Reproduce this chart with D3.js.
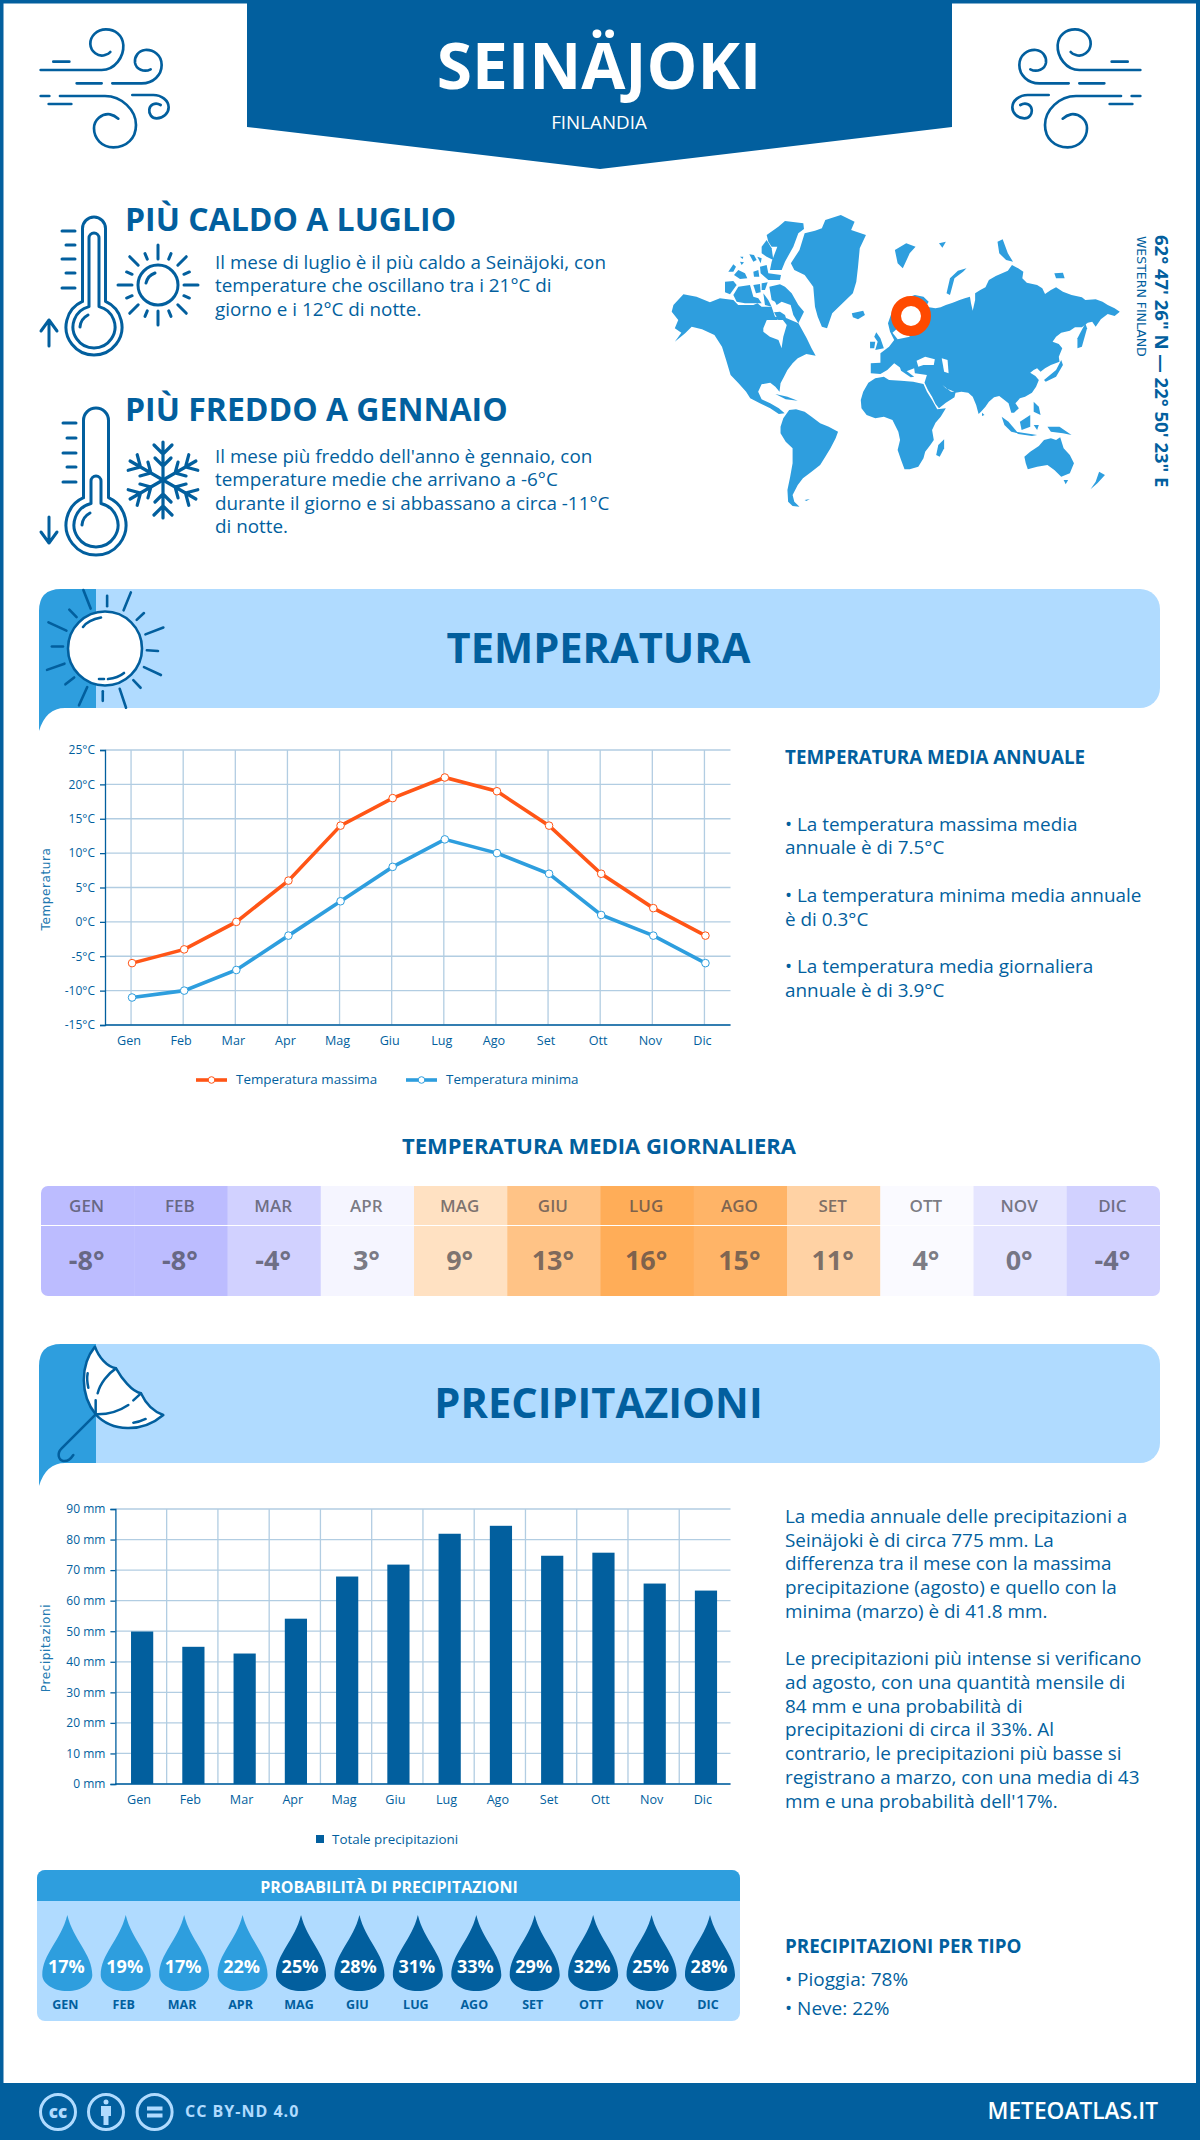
<!DOCTYPE html>
<html>
<head>
<meta charset="utf-8">
<script src="https://cdn.jsdelivr.net/npm/d3@7"></script>
<style>
  body { margin: 0; background: #fff; }
  svg { display: block; }
  text { font-family: "Open Sans", sans-serif; fill: #025f9e; }
  .grid line { stroke: #b2cde2; stroke-width: 1.3; }
  .axis path, .axis line { stroke: #025f9e; stroke-width: 1.3; }
  .axis text { font-family: "Open Sans", sans-serif; fill: #025f9e; }
  .ink { fill: none; stroke: #025f9e; stroke-linecap: round; stroke-linejoin: round; }
</style>
</head>
<body>
<div id="chart"></div>
<script>
// Data
var months = ["Gen", "Feb", "Mar", "Apr", "Mag", "Giu", "Lug", "Ago", "Set", "Ott", "Nov", "Dic"];
var monthsUpper = ["GEN", "FEB", "MAR", "APR", "MAG", "GIU", "LUG", "AGO", "SET", "OTT", "NOV", "DIC"];
var tempMax = [-6, -4, 0, 6, 14, 18, 21, 19, 14, 7, 2, -2];
var tempMin = [-11, -10, -7, -2, 3, 8, 12, 10, 7, 1, -2, -6];
var tempDaily = [-8, -8, -4, 3, 9, 13, 16, 15, 11, 4, 0, -4];
var precip = [49.9, 44.9, 42.7, 54.1, 67.9, 71.8, 81.9, 84.5, 74.7, 75.7, 65.6, 63.3];
var precipProb = [17, 19, 17, 22, 25, 28, 31, 33, 29, 32, 25, 28];
var tempTicks = [-15, -10, -5, 0, 5, 10, 15, 20, 25];
var precipTicks = [0, 10, 20, 30, 40, 50, 60, 70, 80, 90];

var blue = "#025f9e", midBlue = "#2e9ede", lightBlue = "#b0dbff", orange = "#ff5516";

// World map outlines, traced in a 1568x960 drawing space
var mapLand = [
  [[34,335],[39,315],[68,283],[106,290],[145,307],[174,295],[213,300],[227,315],[271,315],[283,310],[295,320],[324,320],[334,350],[368,355],[402,370],[426,415],[440,445],[452,467],[425,462],[400,475],[385,490],[370,510],[360,530],[350,550],[347,575],[335,560],[320,548],[295,553],[285,575],[295,598],[320,610],[345,625],[362,640],[345,642],[320,625],[290,610],[262,595],[250,575],[228,550],[205,525],[192,480],[180,440],[158,405],[122,388],[92,380],[73,400],[43,425],[62,398],[43,385],[53,360]],
  [[335,582],[370,590],[400,602],[365,598]],
  [[380,190],[405,150],[420,100],[450,92],[470,85],[480,60],[525,45],[565,65],[555,90],[598,105],[580,145],[575,200],[570,245],[560,280],[530,310],[500,340],[485,385],[470,380],[458,350],[450,320],[445,260],[420,225],[390,210]],
  [[557,340],[590,332],[595,345],[575,358],[560,352]],
  [[682,150],[715,130],[742,140],[725,160],[705,205],[690,190]],
  [[810,130],[830,125],[820,143]],
  [[890,205],[880,215],[855,235],[842,285],[832,280],[842,235],[865,212]],
  [[980,125],[995,118],[1010,160],[1025,185],[1005,180],[985,160]],
  [[1145,220],[1170,218],[1175,235],[1150,235]],
  [[612,490],[640,488],[640,460],[665,440],[680,420],[668,395],[662,370],[672,340],[690,310],[705,298],[740,285],[765,290],[780,305],[772,320],[800,325],[815,322],[830,315],[850,308],[870,300],[885,295],[900,290],[903,310],[908,332],[915,300],[915,280],[930,270],[945,262],[955,240],[975,228],[1010,212],[1022,195],[1040,205],[1055,215],[1052,235],[1065,248],[1095,255],[1110,265],[1118,282],[1135,270],[1150,262],[1170,275],[1195,285],[1225,292],[1235,300],[1265,298],[1285,305],[1300,315],[1320,325],[1335,335],[1320,348],[1300,342],[1280,358],[1265,380],[1255,365],[1242,368],[1225,382],[1205,382],[1190,392],[1165,398],[1150,410],[1140,425],[1158,432],[1168,445],[1158,470],[1160,485],[1135,495],[1118,505],[1105,515],[1095,505],[1085,510],[1075,518],[1090,528],[1100,540],[1092,560],[1080,578],[1060,590],[1045,595],[1032,610],[1042,625],[1028,638],[1020,638],[1012,610],[1000,600],[985,588],[970,592],[955,605],[945,620],[932,635],[925,642],[918,615],[908,590],[895,578],[875,575],[858,578],[855,592],[830,608],[810,625],[800,612],[790,590],[778,570],[768,548],[775,525],[755,522],[740,520],[738,505],[725,510],[712,515],[700,505],[680,490],[660,510],[640,522],[612,520]],
  [[583,600],[590,575],[605,548],[625,535],[650,530],[665,540],[700,542],[735,545],[765,552],[775,575],[790,600],[805,628],[830,625],[815,650],[800,668],[790,690],[795,720],[785,735],[770,755],[765,775],[750,800],[725,808],[710,808],[700,780],[690,750],[697,720],[692,695],[675,660],[650,650],[625,655],[600,645],[585,625]],
  [[350,680],[358,655],[375,630],[395,628],[420,635],[440,650],[465,670],[490,680],[517,695],[510,715],[495,745],[480,770],[465,795],[440,815],[415,835],[400,855],[385,885],[390,905],[405,920],[385,918],[372,905],[370,870],[378,830],[385,790],[385,745],[365,725],[350,700]],
  [[1058,770],[1075,755],[1100,738],[1115,720],[1135,715],[1150,720],[1162,712],[1172,745],[1190,765],[1202,790],[1190,820],[1165,830],[1145,810],[1125,795],[1095,800],[1068,808],[1062,790]],
  [[628,397],[640,415],[650,445],[625,450],[632,425],[622,410]],
  [[610,425],[625,425],[622,445],[610,445]],
  [[695,497],[712,510],[738,530],[728,532],[700,512]],
  [[1235,370],[1240,385],[1225,440],[1212,445],[1212,415]],
  [[1115,540],[1150,510],[1165,480],[1170,495],[1150,530],[1120,545]],
  [[825,718],[825,745],[812,770],[802,765],[808,735]],
  [[1275,815],[1292,825],[1270,850],[1250,868],[1265,845]],
  [[1172,840],[1185,840],[1178,853]],
  [[992,650],[1012,665],[1040,700],[1020,695],[1000,675]],
  [[1030,695],[1095,705],[1080,708],[1040,702]],
  [[1045,665],[1075,645],[1075,680],[1050,690]],
  [[1085,675],[1100,675],[1095,690]],
  [[1125,680],[1160,680],[1195,705],[1170,700],[1135,695]],
  [[1085,605],[1100,620],[1105,645],[1085,635]],
  [[935,638],[942,645],[935,648]],
  [[420,900],[435,897],[425,903]]
];
var mapWater = [
  [[300,385],[310,360],[339,360],[353,355],[368,375],[358,410],[353,445],[344,420],[319,410],[300,395]],
  [[745,482],[770,470],[798,478],[795,495],[765,495],[750,500]],
  [[818,475],[835,480],[838,520],[825,515]],
  [[675,398],[690,385],[720,395],[725,410],[690,418]],
  [[820,555],[845,575],[855,575],[830,565]]
];
// Arctic Canada, traced at 3x from the corner of the map
var mapArctic = [
  [[290,90],[325,65],[345,48],[400,55],[402,72],[385,85],[370,125],[345,170],[335,195],[300,195],[305,170],[322,125],[305,125],[295,110]],
  [[275,125],[290,105],[305,130],[310,165],[290,155],[275,145]],
  [[238,148],[252,150],[260,165],[250,170]],
  [[262,155],[275,160],[272,175]],
  [[210,155],[220,155],[218,162]],
  [[210,170],[222,172],[215,180]],
  [[175,200],[190,178],[198,185],[190,200]],
  [[192,210],[205,195],[225,205],[232,220],[210,222]],
  [[250,200],[265,195],[268,215],[252,215]],
  [[270,185],[290,180],[295,205],[333,210],[330,225],[295,225],[272,205]],
  [[165,230],[190,228],[200,240],[180,268],[165,262]],
  [[190,270],[205,245],[240,240],[250,275],[265,280],[275,295],[255,295],[225,295],[200,290]],
  [[250,240],[270,237],[272,262],[258,265]],
  [[275,235],[293,232],[285,255],[275,255]],
  [[280,265],[295,285],[305,305],[285,300]],
  [[298,245],[330,238],[345,245],[365,265],[385,300],[402,320],[385,355],[370,330],[362,300],[335,290],[320,300],[315,290],[305,285]],
  [[312,322],[330,320],[345,330],[350,345],[325,345]]
];

var svg = d3.select("#chart").append("svg")
    .attr("width", 1200)
    .attr("height", 2140);

// Page frame
svg.append("rect").attr("x", 1.75).attr("y", 1.75).attr("width", 1196.5).attr("height", 2130)
    .attr("fill", "none").attr("stroke", blue).attr("stroke-width", 3.5);
svg.append("rect").attr("x", 1196).attr("width", 4).attr("height", 2140).attr("fill", blue);

function addText(x, y, str, size, weight, anchor, color) {
  var t = svg.append("text").attr("x", x).attr("y", y).text(str)
      .attr("font-size", size).attr("font-weight", weight || 400)
      .attr("text-anchor", anchor || "start");
  if (color) t.style("fill", color);
  return t;
}

function addLines(x, ys, lines, size, weight) {
  lines.forEach(function(d, i) { addText(x, ys[i], d, size, weight); });
}

// Header
svg.append("path").attr("d", "M247 0H952V127L600 169L247 127Z").attr("fill", blue);
addText(599, 89, "SEINÄJOKI", 64, 700, "middle", "#fff");
addText(599, 129, "FINLANDIA", 18.8, 400, "middle", "#fff");

// Wind icons, drawn in a zoomed space
var windPaths = [
  "M32 210H215C255 210 282 170 280 135C278 105 255 88 228 88C200 88 180 110 181 132C182 155 205 172 225 165C232 163 238 160 241 156",
  "M70 185H118",
  "M140 250H215M247 250H335C370 250 395 225 395 195C395 165 370 148 345 150C325 152 313 170 315 188C318 208 342 218 362 208",
  "M32 288H58M90 288H225C275 288 318 330 318 375C318 415 290 442 250 442C215 442 192 415 192 385C192 360 215 340 240 343C250 345 258 350 265 356",
  "M56 312H124",
  "M307 285H370C395 285 416 302 416 322C416 340 400 355 380 355C365 355 356 342 358 328C360 315 375 305 392 315"
];
[ "translate(30,0) scale(0.3333)", "translate(1151,0) scale(-0.3333,0.3333)" ].forEach(function(tr) {
  svg.append("g").attr("transform", tr).selectAll("path").data(windPaths).enter().append("path")
      .attr("class", "ink").attr("stroke-width", 8).attr("d", function(d) { return d; });
});

// Thermometers
function thermometer(o) {
  var g = svg.append("g").attr("class", "ink").attr("stroke-width", 3);
  var dyOuter = Math.sqrt(o.R * o.R - o.hw * o.hw);
  g.append("path").attr("d", "M" + (o.cx - o.hw) + " " + (o.cy - dyOuter) + "V" + (o.top + o.hw)
      + "A" + o.hw + " " + o.hw + " 0 0 1 " + (o.cx + o.hw) + " " + (o.top + o.hw)
      + "V" + (o.cy - dyOuter) + "A" + o.R + " " + o.R + " 0 1 1 " + (o.cx - o.hw) + " " + (o.cy - dyOuter));
  var dyInner = Math.sqrt(o.r * o.r - 25);
  g.append("path").attr("d", "M" + (o.cx - 5) + " " + (o.cy - dyInner) + "V" + (o.itop + 5)
      + "A5 5 0 0 1 " + (o.cx + 5) + " " + (o.itop + 5)
      + "V" + (o.cy - dyInner) + "A" + o.r + " " + o.r + " 0 1 1 " + (o.cx - 5) + " " + (o.cy - dyInner));
  g.append("path").attr("d", "M" + (o.cx - 14) + " " + (o.cy + 0) + "A15 15 0 0 1 " + (o.cx - 6) + " " + (o.cy - 12));
  o.ticks.forEach(function(y, i) {
    g.append("path").attr("d", "M" + (i % 2 ? o.tx + 4 : o.tx) + " " + y + "H" + (o.tx + 13));
  });
  g.append("path").attr("d", o.arrow);
}
thermometer({cx: 94, cy: 327, R: 28, hw: 11.5, top: 217, r: 21, itop: 233,
  tx: 62, ticks: [231, 245, 259, 273, 288], arrow: "M49 346V320M41 331L49 320L57 331"});
thermometer({cx: 96, cy: 525, R: 30, hw: 12.5, top: 408, r: 22, itop: 476,
  tx: 63, ticks: [423, 438, 453, 467, 482], arrow: "M49 517V543M41 532L49 543L57 532"});

// Small sun
var smallSun = svg.append("g").attr("class", "ink").attr("stroke-width", 3);
smallSun.append("circle").attr("cx", 158).attr("cy", 285).attr("r", 20);
smallSun.append("path").attr("d", "M146 283A14 14 0 0 1 155 273");
d3.range(16).forEach(function(i) {
  var a = i * Math.PI / 8, long = i % 2 === 0;
  var r0 = long ? (i % 4 === 0 ? 26 : 28) : 28, r1 = long ? 40 : 34;
  smallSun.append("path").attr("d", "M" + (158 + r0 * Math.cos(a)) + " " + (285 + r0 * Math.sin(a))
      + "L" + (158 + r1 * Math.cos(a)) + " " + (285 + r1 * Math.sin(a)));
});

// Snowflake
var flake = svg.append("g").attr("class", "ink").attr("stroke-width", 3.2)
    .attr("transform", "translate(163,480)");
d3.range(6).forEach(function(i) {
  flake.append("path").attr("transform", "rotate(" + (i * 60) + ")")
      .attr("d", "M0 0V-38M-9 -35L0 -26L9 -35M-8 -22L0 -14L8 -22");
});

addText(125, 231, "PIÙ CALDO A LUGLIO", 32, 700);
addText(125, 421, "PIÙ FREDDO A GENNAIO", 32, 700);
addLines(215, [269, 292, 316], [
  "Il mese di luglio è il più caldo a Seinäjoki, con",
  "temperature che oscillano tra i 21°C di",
  "giorno e i 12°C di notte."], 18.85);
addLines(215, [463, 486, 510, 533], [
  "Il mese più freddo dell'anno è gennaio, con",
  "temperature medie che arrivano a -6°C",
  "durante il giorno e si abbassano a circa -11°C",
  "di notte."], 18.85);

// World map
var mapLine = d3.line().curve(d3.curveLinearClosed);
var map = svg.append("g").attr("transform", "translate(660,200) scale(0.3444,0.3333)");
map.selectAll(".land").data(mapLand).enter().append("path")
    .attr("class", "land").attr("fill", midBlue).attr("d", mapLine);
map.selectAll(".water").data(mapWater).enter().append("path")
    .attr("class", "water").attr("fill", "#fff").attr("d", mapLine);
svg.append("g").attr("transform", "translate(670,205) scale(0.3333)")
  .selectAll("path").data(mapArctic).enter().append("path")
    .attr("fill", midBlue).attr("d", mapLine);
svg.append("circle").attr("cx", 911).attr("cy", 316).attr("r", 15)
    .attr("fill", "#fff").attr("stroke", "#ff4a00").attr("stroke-width", 10);
svg.append("text").attr("transform", "translate(1155,235) rotate(90)")
    .attr("font-size", 18.5).attr("font-weight", 700)
    .text("62° 47' 26\" N — 22° 50' 23\" E");
svg.append("text").attr("transform", "translate(1137,236) rotate(90)")
    .attr("font-size", 12.5).style("font-family", "DejaVu Sans")
    .text("WESTERN FINLAND");

// Section banners
function banner(y, title) {
  svg.append("path").attr("fill", lightBlue)
      .attr("d", "M90 " + y + "H1140a20 20 0 0 1 20 20V" + (y + 99) + "a20 20 0 0 1 -20 20H90Z");
  svg.append("path").attr("fill", midBlue)
      .attr("d", "M39 " + (y + 22) + "Q39 " + y + " 61 " + y + "H96V" + (y + 119) + "H65Q46 " + (y + 119) + " 39 " + (y + 142) + "Z");
  addText(598.5, y + 74, title, 41.6, 700, "middle");
}
banner(589, "TEMPERATURA");
banner(1344, "PRECIPITAZIONI");

// Big sun in the temperature banner
var sunRays = [[172,58,187,112],[221,75,221,105],[270,65,255,117],[297,125,282,145],[337,167,300,187],
  [303,233,326,235],[332,305,297,282],[290,342,275,320],[260,400,247,345],[212,380,212,352],[163,393,180,340],
  [135,332,153,312],[97,290,133,272],[107,222,130,222],[100,152,137,176],[143,115,158,137]];
var bigSun = svg.append("g").attr("class", "ink").attr("stroke-width", 2.6);
bigSun.append("circle").attr("cx", 105).attr("cy", 648.5).attr("r", 37).attr("fill", "#fff");
sunRays.forEach(function(r) {
  bigSun.append("path").attr("d", "M" + r[0] / 2.063 + " " + (570 + r[1] / 2.904) + "L" + r[2] / 2.063 + " " + (570 + r[3] / 2.904));
});
bigSun.append("path").attr("d", "M83 627Q88 620 101 617.5M108 679Q118 678 124 673M99 679H104");

// Umbrella in the precipitation banner
var umbrella = svg.append("g").attr("class", "ink").attr("stroke-width", 7.5)
    .attr("transform", "translate(30,1335) scale(0.3333)");
umbrella.append("path").attr("fill", "#fff")
    .attr("d", "M195 35C150 90 150 180 197 238C245 290 335 295 400 240C355 225 340 190 333 175C305 170 275 130 258 100C230 95 205 65 195 35Z");
umbrella.append("path")
    .attr("d", "M197 238C250 240 280 220 295 210M310 196L333 175M258 100C235 115 210 145 203 175M197 196V238M173 115C170 130 172 145 175 158M310 263C322 262 335 258 347 252M197 238L95 340C80 355 85 375 100 378C112 380 122 372 130 360");

// Temperature chart
var tx = d3.scaleBand().domain(months).range([105, 730.5]);
var ty = d3.scaleLinear().domain([-15, 25]).range([1025, 750]);
var tLine = d3.line()
    .x(function(d, i) { return tx(months[i]) + tx.bandwidth() / 2 + 1; })
    .y(function(d) { return ty(d); });

svg.append("g").attr("class", "grid").selectAll("line").data(tempTicks).enter().append("line")
    .attr("x1", 105).attr("x2", 730.5)
    .attr("y1", function(d) { return ty(d); }).attr("y2", function(d) { return ty(d); });
svg.append("g").attr("class", "grid").selectAll("line").data(months).enter().append("line")
    .attr("y1", 750).attr("y2", 1025)
    .attr("x1", function(d) { return tx(d) + tx.bandwidth() / 2; })
    .attr("x2", function(d) { return tx(d) + tx.bandwidth() / 2; });

var tAxisY = svg.append("g").attr("class", "axis").attr("transform", "translate(105,0)")
    .call(d3.axisLeft(ty).tickValues(tempTicks).tickSize(5).tickPadding(5).tickFormat(function(d) { return d + "°C"; }));
tAxisY.selectAll("text").attr("font-size", 12);
var tAxisX = svg.append("g").attr("class", "axis").attr("transform", "translate(0,1025)")
    .call(d3.axisBottom(tx).tickSize(0).tickPadding(11));
tAxisX.select(".domain").attr("d", "M105 0H730.5");
tAxisX.selectAll("text").attr("x", -2).attr("font-size", 12.6);

[[tempMax, orange], [tempMin, midBlue]].forEach(function(s) {
  svg.append("path").datum(s[0]).attr("fill", "none").attr("stroke", s[1]).attr("stroke-width", 3.6).attr("d", tLine);
  svg.append("g").selectAll("circle").data(s[0]).enter().append("circle")
      .attr("cx", function(d, i) { return tx(months[i]) + tx.bandwidth() / 2 + 1; })
      .attr("cy", function(d) { return ty(d); })
      .attr("r", 3.8).attr("fill", "#fff").attr("stroke", s[1]).attr("stroke-width", 1);
});

function yTitle(y, str) {
  svg.append("text").attr("transform", "translate(50," + y + ") rotate(-90)")
      .attr("text-anchor", "middle").attr("font-size", 12).attr("letter-spacing", 0.6)
      .style("font-family", "DejaVu Sans").style("fill", "#2178b0").text(str);
}
yTitle(889, "Temperatura");
yTitle(1648, "Precipitazioni");

// Temperature legend
[[196, 236, orange, "Temperatura massima"], [406, 446, midBlue, "Temperatura minima"]].forEach(function(l) {
  svg.append("line").attr("x1", l[0]).attr("x2", l[0] + 31).attr("y1", 1080).attr("y2", 1080)
      .attr("stroke", l[2]).attr("stroke-width", 3.6);
  svg.append("circle").attr("cx", l[0] + 15.5).attr("cy", 1080).attr("r", 3.3)
      .attr("fill", "#fff").attr("stroke", l[2]);
  addText(l[1], 1084, l[3], 13.4);
});

addText(785, 764, "TEMPERATURA MEDIA ANNUALE", 18.8, 700);
addLines(785, [831, 854, 902, 926, 973, 997], [
  "• La temperatura massima media",
  "annuale è di 7.5°C",
  "• La temperatura minima media annuale",
  "è di 0.3°C",
  "• La temperatura media giornaliera",
  "annuale è di 3.9°C"], 18.9);

// Daily temperature strip
addText(599, 1154, "TEMPERATURA MEDIA GIORNALIERA", 22, 700, "middle");
var cellX = d3.scaleBand().domain(months).range([41, 1160]);
var cellColor = d3.scaleLinear().domain([-8, 5, 16]).range(["#bcbcff", "#ffffff", "#ffad58"]);
svg.append("clipPath").attr("id", "stripClip").append("rect")
    .attr("x", 41).attr("y", 1186).attr("width", 1119).attr("height", 110).attr("rx", 7);
var strip = svg.append("g").attr("clip-path", "url(#stripClip)");
strip.selectAll("rect").data(tempDaily).enter().append("rect")
    .attr("x", function(d, i) { return cellX(months[i]); })
    .attr("y", 1186).attr("width", cellX.bandwidth() + 0.5).attr("height", 110)
    .attr("fill", function(d) { return cellColor(d); });
svg.append("line").attr("x1", 41).attr("x2", 1160).attr("y1", 1225.5).attr("y2", 1225.5)
    .attr("stroke", "#fff").attr("stroke-width", 1.2);
tempDaily.forEach(function(d, i) {
  var cx = cellX(months[i]) + cellX.bandwidth() / 2 - 1;
  addText(cx, 1212, monthsUpper[i], 17, 600, "middle", "rgba(60,60,70,0.68)");
  addText(cx, 1270, d + "°", 27, 700, "middle", "rgba(60,60,70,0.68)");
});

// Precipitation chart
var px = d3.scaleBand().domain(months).range([115.4, 730.5]);
var py = d3.scaleLinear().domain([0, 90]).range([1784, 1509]);

svg.append("g").attr("class", "grid").selectAll("line").data(precipTicks).enter().append("line")
    .attr("x1", 115.4).attr("x2", 730.5)
    .attr("y1", function(d) { return py(d); }).attr("y2", function(d) { return py(d); });
svg.append("g").attr("class", "grid").selectAll("line").data(months.slice(1)).enter().append("line")
    .attr("y1", 1509).attr("y2", 1784)
    .attr("x1", function(d) { return px(d); }).attr("x2", function(d) { return px(d); });

svg.append("g").selectAll("rect").data(precip).enter().append("rect")
    .attr("x", function(d, i) { return px(months[i]) + px.bandwidth() / 2 - 10; })
    .attr("y", function(d) { return py(d); })
    .attr("width", 22.2)
    .attr("height", function(d) { return py(0) - py(d); })
    .attr("fill", blue);

var pAxisY = svg.append("g").attr("class", "axis").attr("transform", "translate(115.4,0)")
    .call(d3.axisLeft(py).tickValues(precipTicks).tickSize(5).tickPadding(5).tickFormat(function(d) { return d + " mm"; }));
pAxisY.selectAll("text").attr("font-size", 12);
var pAxisX = svg.append("g").attr("class", "axis").attr("transform", "translate(0,1784)")
    .call(d3.axisBottom(px).tickSize(0).tickPadding(11));
pAxisX.select(".domain").attr("d", "M115.4 0H730.5");
pAxisX.selectAll("text").attr("x", -2).attr("font-size", 12.6);

svg.append("rect").attr("x", 316).attr("y", 1835).attr("width", 8).attr("height", 8).attr("fill", blue);
addText(332, 1844, "Totale precipitazioni", 13.4);

addLines(785, [1523, 1547, 1570, 1594, 1618, 1665, 1689, 1713, 1736, 1760, 1784, 1808], [
  "La media annuale delle precipitazioni a",
  "Seinäjoki è di circa 775 mm. La",
  "differenza tra il mese con la massima",
  "precipitazione (agosto) e quello con la",
  "minima (marzo) è di 41.8 mm.",
  "Le precipitazioni più intense si verificano",
  "ad agosto, con una quantità mensile di",
  "84 mm e una probabilità di",
  "precipitazioni di circa il 33%. Al",
  "contrario, le precipitazioni più basse si",
  "registrano a marzo, con una media di 43",
  "mm e una probabilità dell'17%."], 18.9);

// Precipitation probability panel
svg.append("rect").attr("x", 37).attr("y", 1870).attr("width", 703).attr("height", 151).attr("rx", 8).attr("fill", lightBlue);
svg.append("path").attr("d", "M37 1901V1878a8 8 0 0 1 8 -8H732a8 8 0 0 1 8 8V1901Z").attr("fill", midBlue);
addText(389, 1893, "PROBABILITÀ DI PRECIPITAZIONI", 16, 700, "middle", "#fff");

var dropX = d3.scalePoint().domain(monthsUpper).range([67.3, 710]);
var dropShape = "M0 -53C6 -28 25 -14 25 7C25 15 15 23 0 23C-15 23 -25 15 -25 7C-25 -14 -6 -28 0 -53Z";
var drops = svg.append("g").selectAll("g").data(precipProb).enter().append("g")
    .attr("transform", function(d, i) { return "translate(" + dropX(monthsUpper[i]) + ",1968)"; });
drops.append("path").attr("d", dropShape)
    .attr("fill", function(d) { return d >= 25 ? blue : midBlue; });
drops.append("text").attr("y", 5).attr("x", -1).attr("text-anchor", "middle")
    .attr("font-size", 18).attr("font-weight", 700).style("fill", "#fff")
    .text(function(d) { return d + "%"; });
drops.append("text").attr("y", 41).attr("x", -2).attr("text-anchor", "middle")
    .attr("font-size", 12.5).attr("font-weight", 700)
    .text(function(d, i) { return monthsUpper[i]; });

addText(785, 1953, "PRECIPITAZIONI PER TIPO", 18.8, 700);
addLines(785, [1986, 2015], ["• Pioggia: 78%", "• Neve: 22%"], 19);

// Footer
svg.append("rect").attr("y", 2083).attr("width", 1200).attr("height", 57).attr("fill", blue);
var badges = svg.append("g").attr("fill", "none").attr("stroke", lightBlue).attr("stroke-width", 3);
[58, 106, 154.6].forEach(function(cx) {
  badges.append("circle").attr("cx", cx).attr("cy", 2112).attr("r", 17.5);
});
addText(58, 2118, "cc", 17, 800, "middle", lightBlue);
badges.append("circle").attr("cx", 106).attr("cy", 2102).attr("r", 2.5).attr("fill", lightBlue).attr("stroke", "none");
badges.append("path").attr("d", "M101 2106H111V2116H108.5V2125H103.5V2116H101Z").attr("fill", lightBlue).attr("stroke", "none");
badges.append("path").attr("d", "M147 2106.5H162.5V2110.5H147ZM147 2113.5H162.5V2117.5H147Z").attr("fill", lightBlue).attr("stroke", "none");
addText(185, 2117, "CC BY-ND 4.0", 16, 700, "start", lightBlue).attr("letter-spacing", 1);
addText(1158, 2119, "METEOATLAS.IT", 22.7, 600, "end", "#fff");
</script>
</body>
</html>
